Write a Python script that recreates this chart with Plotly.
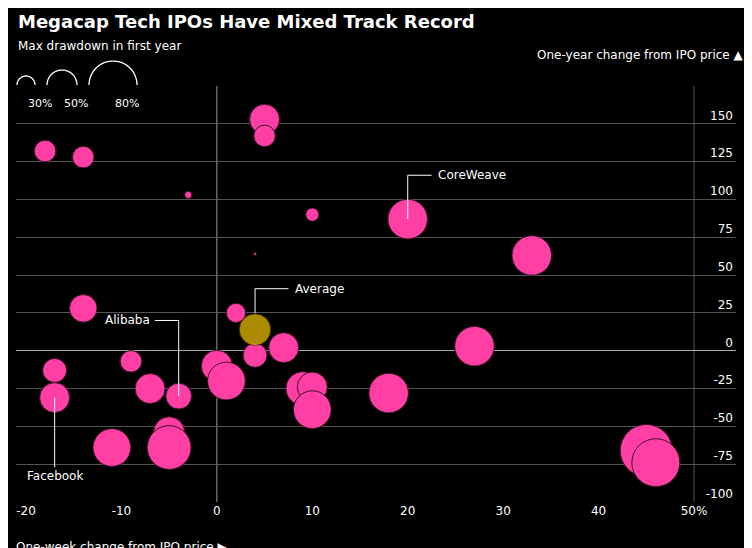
import numpy as np
import plotly.graph_objects as go

# one-week change (%), one-year change (%), max drawdown in first year (%)
week_chg = [-18, -14, -3, 5, 5, 10, 20, 33, 4, -14, 2, 27, 7, 4, -9, 0, 1,
            -17, -17, -7, -4, 9, 10, 10, 18, -5, -5, -11, 45, 46]
year_chg = [132, 128, 103, 153, 142, 90, 87, 63, 64, 28, 25, 3, 2, -3, -7, -10, -20,
            -13, -31, -25, -30, -25, -24, -39, -28, -54, -64, -64, -66, -74]
drawdown = [36, 36, 12, 50, 36, 22, 66, 66, 5, 46, 32, 66, 50, 40, 36, 52, 63,
            40, 50, 50, 43, 56, 50, 63, 66, 52, 73, 63, 87, 80]
avg = dict(week=4, year=14, dd=53)

legend_dd = [30, 50, 80]
y_ticks = [-100, -75, -50, -25, 0, 25, 50, 75, 100, 125, 150, 175]
y_text = [str(v) for v in y_ticks[:-1]] + ["175%"]
x_ticks = [-20, -10, 0, 10, 20, 30, 40, 50]
x_text = [str(v) for v in x_ticks[:-1]] + ["50%"]

PINK = "#ff3fa4"
FONT = "DejaVu Sans"
W, H = 752, 548
L, R, T, B = 8, 24, 78, 54
SCALE = 0.6  # px diameter per drawdown point


def px2paper(px, py):
    return (px - L) / (W - L - R), 1 - (py - T) / (H - T - B)


fig = go.Figure()
fig.add_trace(go.Scatter(
    x=week_chg, y=year_chg, mode="markers",
    marker=dict(size=drawdown, sizemode="diameter", sizeref=1 / SCALE,
                color=PINK, opacity=1, line=dict(color="#3a1028", width=1)),
    hoverinfo="skip", showlegend=False))
fig.add_trace(go.Scatter(
    x=[avg["week"]], y=[avg["year"]], mode="markers",
    marker=dict(size=[avg["dd"]], sizemode="diameter", sizeref=1 / SCALE,
                color="#f7c600", line=dict(color="#3a2a00", width=1)),
    hoverinfo="skip", showlegend=False))

shapes = [
    dict(type="line", x0=50, x1=50, y0=-100, y1=175, xref="x", yref="y",
         line=dict(color="#555", width=1), layer="below"),
    dict(type="line", x0=0, x1=0, y0=-100, y1=175, xref="x", yref="y",
         line=dict(color="#999", width=1), layer="below"),
]


# leader lines
def leader(pts):
    xs, ys = zip(*pts)
    fig.add_trace(go.Scatter(x=xs, y=ys, mode="lines", line=dict(color="white", width=1),
                             hoverinfo="skip", showlegend=False))


leader([(20, 87), (20, 116), (22.5, 116)])
leader([(4, 25), (4, 41), (7.5, 41)])
leader([(-6.5, 20), (-4, 20), (-4, -30)])
leader([(-17, -31), (-17, -77)])

ann = [
    dict(x=23, y=116, text="CoreWeave", xanchor="left"),
    dict(x=8, y=41, text="Average", xanchor="left"),
    dict(x=-6.8, y=20, text="Alibaba", xanchor="right"),
    dict(x=-17, y=-83, text="Facebook", xanchor="center"),
]
annotations = [dict(a, xref="x", yref="y", showarrow=False,
                    font=dict(color="white", size=12, family=FONT)) for a in ann]

# size legend semicircles
base_y = 77
cx = 18
for i, d in enumerate(legend_dd):
    r = d * SCALE / 2
    t = np.linspace(0, np.pi, 30)
    pts = [px2paper(cx + r * np.cos(a), base_y - r * np.sin(a)) for a in t[::-1]]
    path = "M " + " L ".join(f"{x:.4f},{y:.4f}" for x, y in pts)
    shapes.append(dict(type="path", path=path, xref="paper", yref="paper",
                       line=dict(color="white", width=1.3)))
    lx, ly = px2paper(cx, 87)
    annotations.append(dict(x=lx, y=ly, xref="paper", yref="paper", text=f"{d}%",
                            showarrow=False, font=dict(color="white", size=11, family=FONT)))
    if i + 1 < len(legend_dd):
        cx += r + 12 + legend_dd[i + 1] * SCALE / 2


def text_at(px, py, text, anchor, size=12):
    x, y = px2paper(px, py)
    annotations.append(dict(x=x, y=y, xref="paper", yref="paper", xanchor=anchor,
                            yanchor="middle", text=text, showarrow=False,
                            font=dict(color="white", size=size, family=FONT)))


text_at(8, 13, "<b>Megacap Tech IPOs Have Mixed Track Record</b>", "left", 18)
text_at(8, 38, "Max drawdown in first year", "left")
text_at(738, 47, "One-year change from IPO price ▲", "right")
text_at(6, 539, "One-week change from IPO price ▶", "left")

fig.update_layout(
    width=W, height=H, margin=dict(l=L, r=R, t=T, b=B),
    paper_bgcolor="black", plot_bgcolor="black",
    font=dict(color="white", family=FONT, size=12),
    xaxis=dict(range=[-21.05, 54.4], showgrid=False, zeroline=False, tickvals=x_ticks,
               ticktext=x_text, ticks="", showline=False, tickfont=dict(size=12)),
    yaxis=dict(range=[-100, 175], side="right", tickvals=y_ticks, ticktext=y_text,
               ticklabelposition="inside top", gridcolor="#555", zeroline=True,
               zerolinecolor="#aaa", zerolinewidth=1, showline=False, tickfont=dict(size=12)),
    shapes=shapes, annotations=annotations,
)
fig.write_html("out.html")
